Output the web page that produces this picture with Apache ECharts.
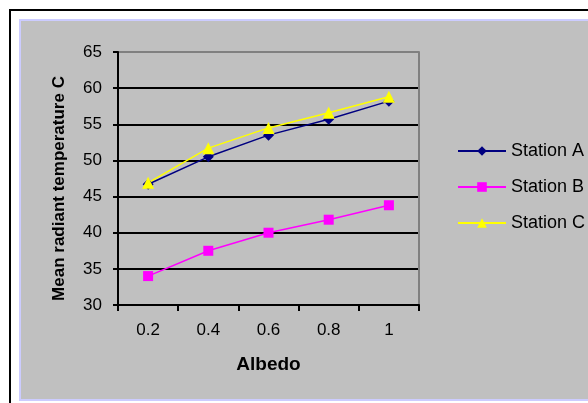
<!DOCTYPE html>
<html>
<head>
<meta charset="utf-8">
<script src="https://cdn.jsdelivr.net/npm/echarts@6/dist/echarts.min.js"></script>
<style>
  html, body { margin: 0; padding: 0; background: #ffffff; }
  #chart { width: 588px; height: 403px; }
</style>
</head>
<body>
<div id="chart"></div>
<script>
// Albedo categories and mean radiant temperature (°C) for each station
const albedo = ['0.2', '0.4', '0.6', '0.8', '1'];
const stationA = [46.7, 50.5, 53.5, 55.7, 58.2];
const stationB = [34.0, 37.5, 40.0, 41.8, 43.8];
const stationC = [46.9, 51.7, 54.5, 56.6, 58.8];
const yTicks = { min: 30, max: 65, step: 5 };

const FONT = '"Liberation Sans", Arial, sans-serif';
const chart = echarts.init(document.getElementById('chart'), null, { renderer: 'canvas' });

const seriesDef = [
  { name: 'Station A', data: stationA, color: '#000080', symbol: 'diamond', size: 11 },
  { name: 'Station B', data: stationB, color: '#ff00ff', symbol: 'rect', size: 10 },
  { name: 'Station C', data: stationC, color: '#ffff00', symbol: 'triangle', size: 12 }
];

chart.setOption({
  animation: false,
  backgroundColor: '#ffffff',
  graphic: [
    { type: 'rect', shape: { x: 10, y: 10, width: 600, height: 420 },
      style: { fill: '#ffffff', stroke: '#000000', lineWidth: 2 }, z: -10 },
    { type: 'rect', shape: { x: 20, y: 20, width: 590, height: 380 },
      style: { fill: '#c0c0c0', stroke: '#ccccff', lineWidth: 2 }, z: -9 }
  ],
  grid: { left: 118, top: 52, width: 301, height: 253, show: false },
  legend: {
    orient: 'vertical',
    left: 452,
    top: 137,
    itemWidth: 48,
    itemHeight: 12,
    itemGap: 18,
    textStyle: { fontFamily: FONT, fontSize: 18, color: '#000000' },
    data: seriesDef.map(s => s.name)
  },
  xAxis: {
    type: 'category',
    data: albedo,
    boundaryGap: true,
    name: 'Albedo',
    nameLocation: 'middle',
    nameGap: 50,
    nameTextStyle: { fontFamily: FONT, fontSize: 19, fontWeight: 'bold', color: '#000000' },
    axisLine: { lineStyle: { color: '#000000', width: 2 } },
    axisTick: { show: true, alignWithLabel: false, length: 6, inside: false, lineStyle: { color: '#000000', width: 2 } },
    axisLabel: { fontFamily: FONT, fontSize: 17, color: '#000000', margin: 17 },
    splitLine: { show: false }
  },
  yAxis: [
    {
      type: 'value',
      min: yTicks.min,
      max: yTicks.max,
      interval: yTicks.step,
      name: 'Mean radiant temperature C',
      nameLocation: 'middle',
      nameGap: 50,
      nameTextStyle: { fontFamily: FONT, fontSize: 17, fontWeight: 'bold', color: '#000000', padding: [0, 20, 0, 0] },
      axisLine: { show: true, lineStyle: { color: '#000000', width: 2 } },
      axisTick: { show: true, length: 5, lineStyle: { color: '#000000', width: 2 } },
      axisLabel: { fontFamily: FONT, fontSize: 17, color: '#000000', margin: 16 },
      splitLine: {
        show: true,
        lineStyle: {
          color: ['#000000', '#000000', '#000000', '#000000', '#000000', '#000000', '#000000', '#808080'],
          width: 2
        }
      }
    },
    {
      type: 'value',
      position: 'right',
      min: yTicks.min,
      max: yTicks.max,
      interval: yTicks.step,
      axisLine: { show: true, lineStyle: { color: '#808080', width: 2 } },
      axisTick: { show: false },
      axisLabel: { show: false },
      splitLine: { show: false }
    }
  ],
  series: seriesDef.map(s => ({
    name: s.name,
    type: 'line',
    data: s.data,
    symbol: s.symbol,
    symbolSize: s.size,
    showAllSymbol: true,
    lineStyle: { color: s.color, width: 1.5 },
    itemStyle: { color: s.color, borderWidth: 0 }
  }))
});
</script>
</body>
</html>
